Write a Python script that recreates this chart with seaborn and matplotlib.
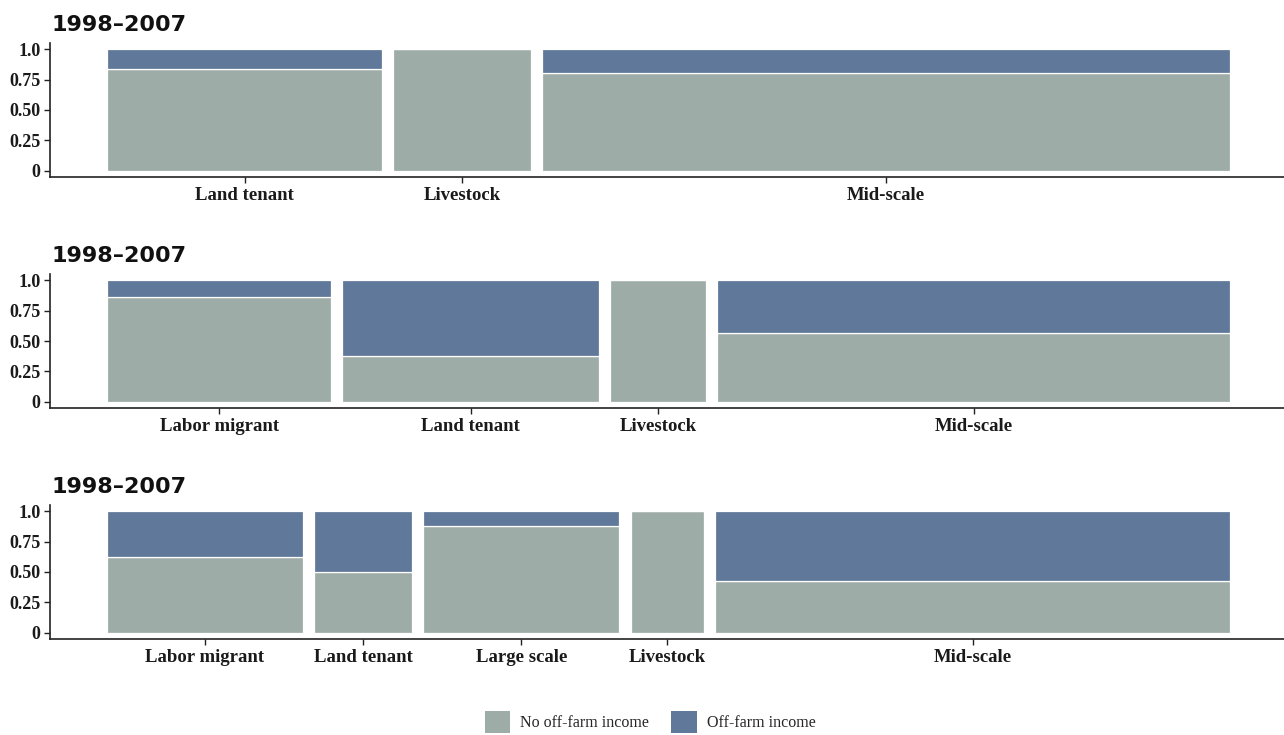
import numpy as np
import pandas as pd
import matplotlib
matplotlib.use("Agg")
import matplotlib.pyplot as plt
from matplotlib.patches import Patch
import seaborn as sns

# Household counts by livelihood type, split by off-farm income status
title = "1998\u20132007"

groups_a = ["Land tenant", "Livestock", "Mid-scale"]
no_off_a = [5, 3, 12]
off_a = [1, 0, 3]

groups_b = ["Labor migrant", "Land tenant", "Livestock", "Mid-scale"]
no_off_b = [6, 3, 3, 9]
off_b = [1, 5, 0, 7]

groups_c = ["Labor migrant", "Land tenant", "Large scale", "Livestock", "Mid-scale"]
no_off_c = [5, 2, 7, 3, 9]
off_c = [3, 2, 1, 0, 12]

levels = ["No off-farm income", "Off-farm income"]
colors = {"No off-farm income": "#9eaca8", "Off-farm income": "#607899"}

sns.set_theme(style="white")
plt.rcParams["font.family"] = ["Liberation Serif", "DejaVu Serif"]

W, H = 1284, 735
fig = plt.figure(figsize=(W / 100, H / 100), dpi=100)

GAP = 0.01
PX_PER_UNIT = 1123.0
LEFT_PX, RIGHT_PX = 50, 1284
ZERO_PX = 107


def mosaic_panel(ax, groups, no_off, off):
    df = pd.DataFrame({"group": groups, "No off-farm income": no_off,
                       "Off-farm income": off})
    df["n"] = df[levels].sum(axis=1)
    avail = 1 - GAP * (len(df) - 1)
    df["width"] = df["n"] / df["n"].sum() * avail
    df["left"] = df["width"].cumsum() - df["width"] + GAP * np.arange(len(df))
    bottom = np.zeros(len(df))
    for lev in levels:
        frac = df[lev] / df["n"]
        ax.bar(df["left"], frac, width=df["width"], bottom=bottom, align="edge",
               color=colors[lev], edgecolor="white", linewidth=0.9)
        bottom = bottom + frac
    ax.set_xticks(df["left"] + df["width"] / 2)
    ax.set_xticklabels(df["group"])
    ax.set_xlim(-(ZERO_PX - LEFT_PX) / PX_PER_UNIT,
                (RIGHT_PX - ZERO_PX) / PX_PER_UNIT)
    ax.set_ylim(-0.05, 1.05)
    ax.set_yticks([0, 0.25, 0.5, 0.75, 1.0])
    ax.set_yticklabels(["0", "0.25", "0.50", "0.75", "1.0"])
    for s in ["top", "right"]:
        ax.spines[s].set_visible(False)
    for s in ["left", "bottom"]:
        ax.spines[s].set_color("#222222")
        ax.spines[s].set_linewidth(1.2)
    ax.tick_params(axis="x", labelsize=13.5)
    ax.tick_params(axis="y", labelsize=13)
    ax.tick_params(axis="both", which="major", direction="out", length=4,
                   width=1.0, color="#222222", pad=3,
                   bottom=True, left=True)
    for lab in ax.get_xticklabels() + ax.get_yticklabels():
        lab.set_fontweight("bold")
        lab.set_color("#1a1a1a")
    ax.set_facecolor("white")


panels = [
    (43, 177, groups_a, no_off_a, off_a, 31),
    (274, 408, groups_b, no_off_b, off_b, 262),
    (505, 639, groups_c, no_off_c, off_c, 493),
]
for top_px, bot_px, g, a, b, title_px in panels:
    ax = fig.add_axes([LEFT_PX / W, 1 - bot_px / H,
                       (RIGHT_PX - LEFT_PX) / W, (bot_px - top_px) / H])
    mosaic_panel(ax, g, a, b)
    fig.text(52 / W, 1 - title_px / H, title, ha="left", va="baseline",
             fontsize=16, fontweight="bold", family="DejaVu Sans",
             color="#111111")

handles = [Patch(facecolor=colors[l], edgecolor="none", label=l) for l in levels]
fig.legend(handles=handles, loc="upper center",
           bbox_to_anchor=(650 / W, 1 - 711 / H),
           ncol=2, frameon=False, fontsize=11.5, handlelength=1.6,
           handleheight=1.75, handletextpad=0.62, columnspacing=1.4,
           borderpad=0, borderaxespad=0)

fig.savefig("out.png", dpi=100, facecolor="white")
